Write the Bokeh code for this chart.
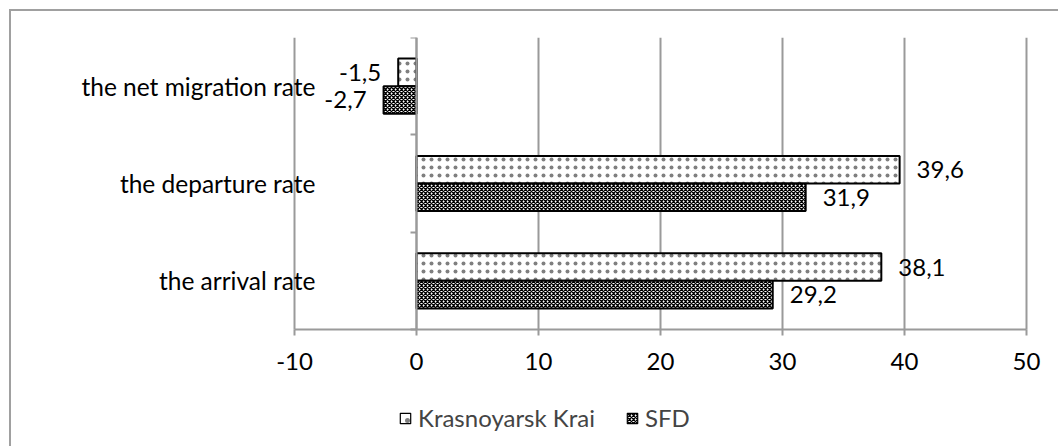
from bokeh.plotting import figure
from bokeh.models import (Range1d, FixedTicker, LinearAxis, Legend, LegendItem,
                          ColumnDataSource)
from bokeh.core.properties import value
from bokeh.embed import file_html
from bokeh.resources import INLINE

# ---------------- data ----------------
categories = ["the arrival rate", "the departure rate", "the net migration rate"]
krasnoyarsk = [38.1, 39.6, -1.5]
sfd = [29.2, 31.9, -2.7]
series_names = ["Krasnoyarsk Krai", "SFD"]
x_ticks = [-10, 0, 10, 20, 30, 40, 50]
x_tick_labels = ["-10", "0", "10", "20", "30", "40", "50"]

# ---------------- style ----------------
FONT = "Lato"
FS = "24px"
FS_CAT = "24.5px"
GRID = "#9a9a9a"
BAR_H = 0.283
BOTTOM_SPACE = 1.2226          # room below the category area, in band units
X_PAD = (3.607, 2.787)         # room left/right of the value axis, in axis units

KRAS_STYLE = dict(fill_color="white", line_color="black", line_width=2,
                  hatch_pattern="dot", hatch_color="black",
                  hatch_scale=8, hatch_weight=0.3, hatch_alpha=0.5)
SFD_STYLE = dict(fill_color="white", line_color="black", line_width=2,
                 hatch_pattern="diagonal_cross", hatch_color="black",
                 hatch_scale=4, hatch_weight=1.3)


def fmt(v):
    return f"{v:.1f}".replace(".", ",")


n = len(categories)
centers = [i + 0.5 for i in range(n)]
k_y = [c + BAR_H / 2 for c in centers]
s_y = [c - BAR_H / 2 for c in centers]


def make_source(vals, ys):
    return ColumnDataSource(dict(
        y=ys, right=vals, left=[0] * len(vals),
        label=[fmt(v) for v in vals],
        align=["left" if v >= 0 else "right" for v in vals],
        xoff=[17 if v >= 0 else -17 for v in vals],
    ))


src_k = make_source(krasnoyarsk, k_y)
src_s = make_source(sfd, s_y)

p = figure(width=1049, height=437, output_backend="svg", toolbar_location=None,
           x_range=Range1d(x_ticks[0] - X_PAD[0], x_ticks[-1] + X_PAD[1]),
           y_range=Range1d(-BOTTOM_SPACE, n),
           x_axis_location=None,
           min_border_left=239, min_border_right=0,
           min_border_top=26, min_border_bottom=0,
           margin=(9, 0, 0, 9),
           styles={"border-left": "2px solid #a0a0a0",
                   "border-top": "2px solid #a0a0a0"})
p.outline_line_color = None
p.background_fill_color = "white"
p.border_fill_color = "white"
p.xgrid.grid_line_color = None
p.ygrid.grid_line_color = None

# vertical gridlines over the category area only
p.segment(x0=x_ticks, x1=x_ticks, y0=[0] * len(x_ticks), y1=[n] * len(x_ticks),
          line_color=GRID, line_width=2)

# x axis drawn at y = 0
xaxis = LinearAxis(fixed_location=0, bounds=(x_ticks[0], x_ticks[-1]),
                   ticker=FixedTicker(ticks=x_ticks),
                   major_label_overrides={t: l for t, l in zip(x_ticks, x_tick_labels)},
                   axis_line_color=GRID, axis_line_width=2,
                   major_tick_line_color=GRID, major_tick_line_width=2,
                   major_tick_out=6, major_tick_in=0,
                   minor_tick_line_color=None,
                   major_label_text_font=FONT, major_label_text_font_size=FS,
                   major_label_text_color="black", major_label_standoff=17)
p.add_layout(xaxis, "below")

# y axis: category labels only
p.yaxis.ticker = FixedTicker(ticks=centers)
p.yaxis.major_label_overrides = {c: nm for c, nm in zip(centers, categories)}
p.yaxis.axis_line_color = None
p.yaxis.major_tick_line_color = None
p.yaxis.minor_tick_line_color = None
p.yaxis.major_tick_out = 0
p.yaxis.major_tick_in = 0
p.yaxis.major_label_standoff = -65
p.yaxis.major_label_text_font = FONT
p.yaxis.major_label_text_font_size = FS_CAT
p.yaxis.major_label_text_color = "black"

# y axis line at x = 0 with category boundary ticks
bounds = list(range(n + 1))
zero_axis = LinearAxis(fixed_location=0, bounds=(0, n),
                       ticker=FixedTicker(ticks=bounds),
                       major_label_overrides={b: "" for b in bounds},
                       axis_line_color=GRID, axis_line_width=2,
                       major_tick_line_color=GRID, major_tick_line_width=2,
                       major_tick_in=6, major_tick_out=0,
                       minor_tick_line_color=None)
p.add_layout(zero_axis, "right")

# bars
rk = p.hbar(y="y", left="left", right="right", height=BAR_H, source=src_k, **KRAS_STYLE)
rs = p.hbar(y="y", left="left", right="right", height=BAR_H, source=src_s, **SFD_STYLE)

# data labels
for src in (src_k, src_s):
    p.text(x="right", y="y", text="label", source=src, text_align="align",
           text_baseline="middle", x_offset="xoff",
           text_font=value(FONT), text_font_size=value(FS), text_color="black")

# square legend keys (legend-only markers; their single point is NaN, so never drawn)
nan_pt = dict(x=[float("nan")], y=[float("nan")])
key_k = p.scatter(x="x", y="y", source=ColumnDataSource(nan_pt), marker="square",
                  **{**KRAS_STYLE, "line_width": 1.2, "hatch_scale": 10})
key_s = p.scatter(x="x", y="y", source=ColumnDataSource(nan_pt), marker="square",
                  **{**SFD_STYLE, "line_width": 1.2})

legend = Legend(items=[LegendItem(label=series_names[0], renderers=[key_k]),
                       LegendItem(label=series_names[1], renderers=[key_s])],
                orientation="horizontal", location=(142, 16),
                padding=0, margin=0, spacing=24, label_standoff=-8,
                glyph_width=26, glyph_height=26,
                label_text_font=FONT, label_text_font_size=FS,
                border_line_color=None, background_fill_alpha=0)
p.add_layout(legend, "center")

open("out.html", "w").write(file_html(p, INLINE))
